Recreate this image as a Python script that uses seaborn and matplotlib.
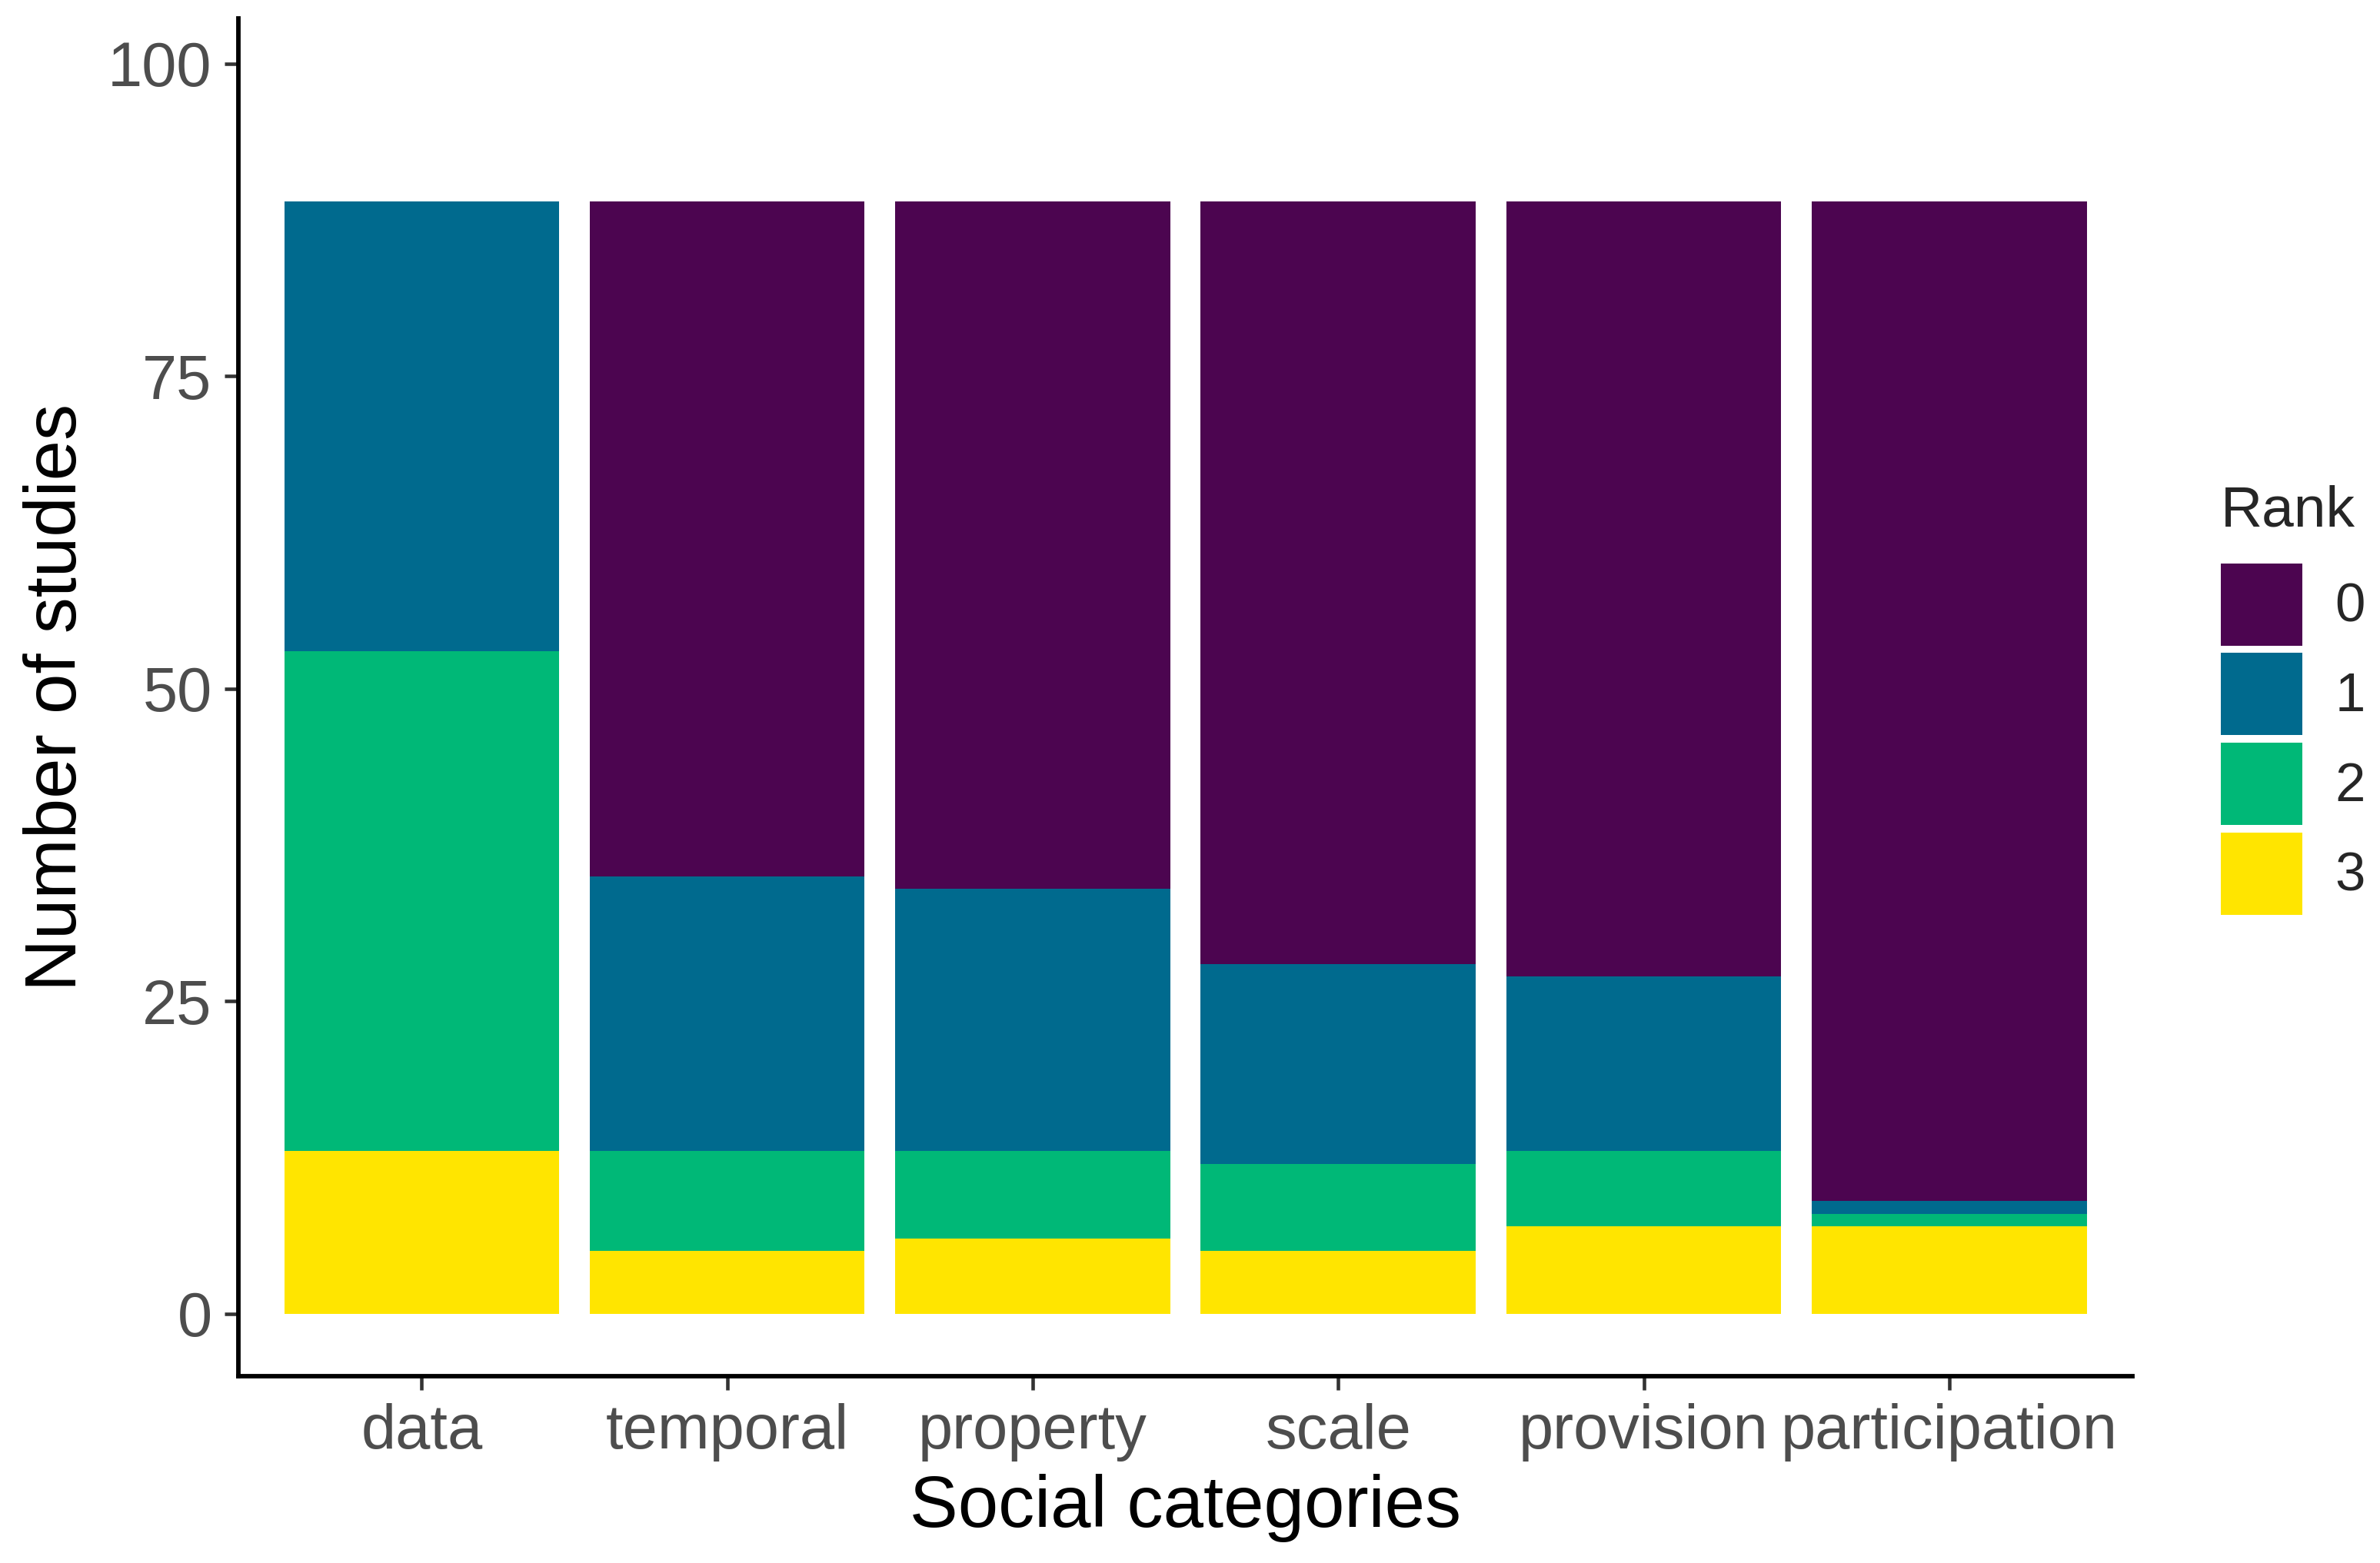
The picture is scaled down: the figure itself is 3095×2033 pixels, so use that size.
import numpy as np
import pandas as pd
import matplotlib
matplotlib.use('Agg')
import matplotlib.pyplot as plt
import matplotlib.patches as mpatches
import seaborn as sns

# 데이터
categories = ['data', 'temporal', 'property', 'scale', 'provision', 'participation']
ranks = ['0', '1', '2', '3']
rank0 = [0, 54, 55, 61, 62, 80]
rank1 = [36, 22, 21, 16, 14, 1]
rank2 = [40, 8, 7, 7, 6, 1]
rank3 = [13, 5, 6, 5, 7, 7]
palette = {'0': '#4C0550', '1': '#006A8E', '2': '#00B877', '3': '#FFE500'}

rows = []
for r, vals in zip(ranks, [rank0, rank1, rank2, rank3]):
    for c, v in zip(categories, vals):
        rows.append({'category': c, 'rank': r, 'count': v})
df = pd.DataFrame(rows)
df['category'] = pd.Categorical(df['category'], categories=categories, ordered=True)

sns.set_style('white')
plt.rcParams['font.family'] = ['Liberation Sans', 'DejaVu Sans']

fig = plt.figure(figsize=(3095 / 300, 2033 / 300), dpi=300)
ax = fig.add_axes([0.1002, 0.1195, 0.7958, 0.8685])

sns.histplot(data=df, x='category', weights='count', hue='rank', hue_order=ranks,
             multiple='stack', discrete=True, shrink=0.9, palette=palette,
             alpha=1, linewidth=0, legend=False, ax=ax)

ax.set_xlim(-0.6, len(categories) - 0.4)
ax.set_ylim(-5, 103.6)
ax.set_yticks([0, 25, 50, 75, 100])
ax.set_xticks(range(len(categories)))
ax.set_xticklabels(categories)

ax.set_xlabel('Social categories', fontsize=22.6, color='black', labelpad=4)
ax.set_ylabel('Number of studies', fontsize=22.6, color='black', labelpad=5)
ax.tick_params(axis='both', labelsize=19.5, labelcolor='#4D4D4D', color='#333333',
               length=4.3, width=1.1, direction='out', bottom=True, left=True, pad=4)

for s in ['top', 'right']:
    ax.spines[s].set_visible(False)
for s in ['left', 'bottom']:
    ax.spines[s].set_linewidth(1.4)
    ax.spines[s].set_color('black')
ax.grid(False)

# 범례
handles = [mpatches.Patch(facecolor=palette[r], edgecolor='none', label=r) for r in ranks]
leg = fig.legend(handles=handles, title='Rank', loc='upper left',
                 bbox_to_anchor=(0.933, 0.69), frameon=False, fontsize=17,
                 title_fontsize=18, handlelength=1.5, handleheight=1.95,
                 labelspacing=0.135, handletextpad=0.6, alignment='left',
                 borderaxespad=0, borderpad=0)
leg._legend_box.sep = 8

fig.savefig('out.png', dpi=300)
